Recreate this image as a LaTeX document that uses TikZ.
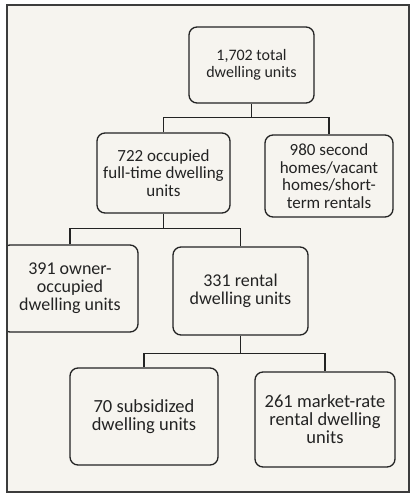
\documentclass[tikz,border=0pt]{standalone}
\usepackage{fontspec}
\setmainfont{Carlito}
\definecolor{paper}{RGB}{246,244,239}
\definecolor{ink}{RGB}{35,35,35}
\definecolor{framec}{RGB}{60,60,60}
\begin{document}
\begin{tikzpicture}[x=1pt,y=-1pt,
  box/.style={draw=ink,line width=1.3pt,rounded corners=8pt,fill=paper,
    text=ink,align=center,inner sep=2pt,anchor=center},
  fa/.style={font=\fontsize{16}{17}\selectfont},
  fb/.style={font=\fontsize{17}{17.5}\selectfont},
  fc/.style={font=\fontsize{18}{18}\selectfont},
  fd/.style={font=\fontsize{18.5}{18}\selectfont},
  link/.style={draw=ink,line width=1.1pt}]
\useasboundingbox (0,0) rectangle (413,495);
\fill[white] (0,0) rectangle (413,495);
\fill[paper] (7,5) rectangle (409,492);
\begin{scope}
\clip (7,5) rectangle (409,492);
\node[box,fa,minimum width=125pt,minimum height=76pt] (top) at (251.5,65) {1,702 total\\dwelling units};
\node[box,fb,minimum width=133pt,minimum height=80pt] (occ) at (163.5,173) {722 occupied\\full-time dwelling\\units};
\node[box,fb,minimum width=128pt,minimum height=82pt] (sec) at (329,176) {980 second\\homes/vacant\\homes/short-\\term rentals};
\node[box,fc,minimum width=136pt,minimum height=87pt] (own) at (70,288.5) {391 owner-\\occupied\\dwelling units};
\node[box,fc,minimum width=135pt,minimum height=88pt] (rent) at (240.5,291) {331 rental\\dwelling units};
\node[box,fd,minimum width=148pt,minimum height=97pt] (sub) at (144,416.5) {70 subsidized\\dwelling units};
\node[box,fd,minimum width=140pt,minimum height=95pt] (mkt) at (325,419.5) {261 market-rate\\rental dwelling\\units};
\path[link] (top.south) -- ++(0,14) coordinate (j1);
\path[link] (occ.north) |- (j1) -| (sec.north);
\path[link] (occ.south) -- ++(0,15) coordinate (j2);
\path[link] (own.north) |- (j2) -| (rent.north);
\path[link] (rent.south) -- ++(0,18) coordinate (j3);
\path[link] (sub.north) |- (j3) -| (mkt.north);
\end{scope}
\draw[framec,line width=1.6pt] (7,5) rectangle (409,492);
\end{tikzpicture}
\end{document}
